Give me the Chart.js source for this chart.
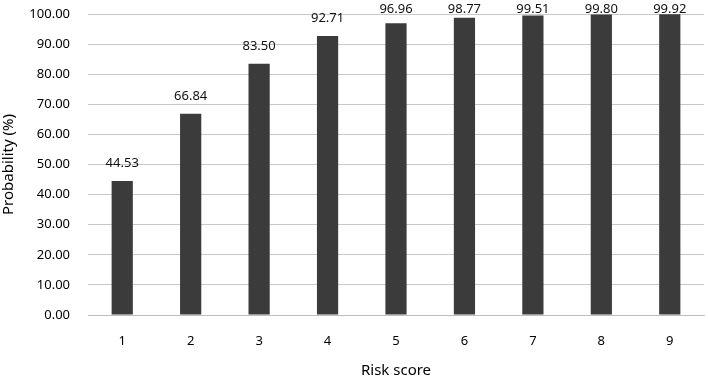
<!DOCTYPE html>
<html>
<head>
<meta charset="utf-8">
<script src="https://cdn.jsdelivr.net/npm/chart.js@4/dist/chart.umd.min.js"></script>
<style>
    html, body { margin: 0; padding: 0; background: #fff; }
    #wrap { width: 708px; height: 380px; }
</style>
</head>
<body>
<div id="wrap"><canvas id="myChartBar" width="708" height="380"></canvas></div>
<script>
// risk score categories and probabilities
const riskScores = ['1', '2', '3', '4', '5', '6', '7', '8', '9'];
const probValues = [44.53, 66.84, 83.50, 92.71, 96.96, 98.77, 99.51, 99.80, 99.92];
const yTicks = [0, 10, 20, 30, 40, 50, 60, 70, 80, 90, 100];

const fontFamily = "'Noto Sans', 'Open Sans', sans-serif";

// draws the value above each bar, kept inside the top of the chart
const valueLabels = {
    id: 'valueLabels',
    afterDatasetsDraw(chart) {
        let ctx = chart.ctx;
        let meta = chart.getDatasetMeta(0);
        ctx.save();
        ctx.font = '13px ' + fontFamily;
        ctx.fillStyle = '#111';
        ctx.textAlign = 'center';
        ctx.textBaseline = 'alphabetic';
        meta.data.forEach(function(bar, i) {
            let y = Math.max(bar.y - 14, 13);
            ctx.fillText(probValues[i].toFixed(2), bar.x, y);
        });
        ctx.restore();
    }
};

let canvas = document.getElementById('myChartBar');
let myChartBar = new Chart(canvas, {
    type: 'bar',
    data: {
        labels: riskScores,
        datasets: [{
            label: 'Probability (%)',
            data: probValues,
            backgroundColor: '#3b3b3b',
            borderWidth: 0,
            categoryPercentage: 1.0,
            barPercentage: 0.31
        }]
    },
    options: {
        responsive: false,
        animation: false,
        layout: { padding: { top: 14, right: 4, left: 0, bottom: 0 } },
        plugins: {
            legend: { display: false },
            tooltip: { enabled: false }
        },
        scales: {
            x: {
                grid: { display: false },
                border: { color: '#bdbdbd', width: 1 },
                ticks: {
                    color: '#000',
                    font: { family: fontFamily, size: 13 },
                    padding: 10
                },
                title: {
                    display: true,
                    text: 'Risk score',
                    color: '#000',
                    font: { family: fontFamily, size: 15 },
                    padding: { top: 10, bottom: 0 }
                },
                afterFit: function(scale) { scale.height = 65; }
            },
            y: {
                min: 0,
                max: 100,
                afterBuildTicks: function(scale) {
                    scale.ticks = yTicks.map(function(v) { return { value: v }; });
                },
                grid: { color: '#c8c8c8', lineWidth: 1, drawTicks: false },
                border: { display: false },
                ticks: {
                    color: '#000',
                    font: { family: fontFamily, size: 13 },
                    padding: 18,
                    callback: function(v) { return v.toFixed(2); }
                },
                title: {
                    display: true,
                    text: 'Probability (%)',
                    color: '#000',
                    font: { family: fontFamily, size: 15 },
                    padding: { top: 0, bottom: 4 }
                },
                afterFit: function(scale) {
                    scale.width = 88;
                    scale.paddingTop = 0;
                    scale.paddingBottom = 0;
                }
            }
        }
    },
    plugins: [valueLabels]
});
</script>
</body>
</html>
